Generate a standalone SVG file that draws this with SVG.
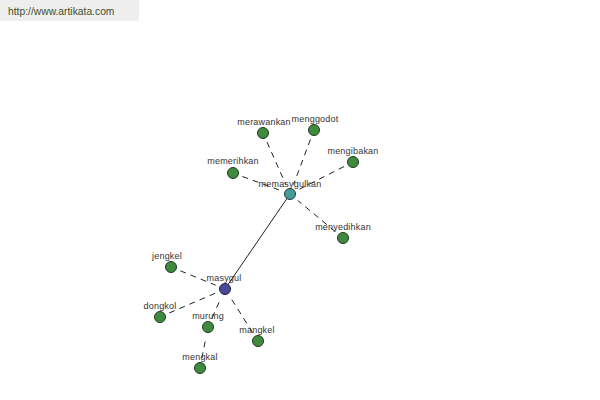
<svg xmlns="http://www.w3.org/2000/svg" width="600" height="400" viewBox="0 0 600 400">
<style>
.lbl{font-family:"Liberation Sans",Arial,sans-serif;font-size:9px;fill:#333;text-anchor:middle;letter-spacing:0.2px}
.leaf{fill:#3f8a3f;stroke:#1e3a1e;stroke-width:1}
.d{stroke:#222;stroke-width:1;stroke-dasharray:6 5;fill:none}
</style>
<rect width="600" height="400" fill="#fff"/>
<rect x="0" y="0" width="139" height="21" fill="#eeeeee"/>
<text x="8" y="15" style="font-family:'Liberation Sans',Arial,sans-serif;font-size:10.3px;fill:#3f4f30">http://www.artikata.com</text>
<g id="connectors">
<line x1="225" y1="289" x2="290" y2="194" stroke="#222" stroke-width="1"/>
<line class="d" x1="242.4" y1="176.5" x2="280.6" y2="190.5"/>
<line class="d" x1="267" y1="142.1" x2="286" y2="184.9"/>
<line class="d" x1="310.5" y1="139.4" x2="293.5" y2="184.6"/>
<line class="d" x1="344.1" y1="166.5" x2="298.9" y2="189.5"/>
<line class="d" x1="335.3" y1="231.6" x2="297.7" y2="200.4"/>
<line class="d" x1="180.3" y1="270.8" x2="215.7" y2="285.2"/>
<line class="d" x1="169.2" y1="313" x2="215.8" y2="293"/>
<line class="d" x1="212.1" y1="317.9" x2="220.9" y2="298.1"/>
<line class="d" x1="252.6" y1="332.6" x2="230.4" y2="297.4"/>
<line class="d" x1="201.9" y1="358.2" x2="206.1" y2="336.8"/>
</g>
<g id="memasygulkan"><circle cx="290" cy="194" r="5.5" fill="#4a9a9a" stroke="#1e3a3a"/><text class="lbl" x="290" y="187">memasygulkan</text></g>
<g id="masygul"><circle cx="225" cy="289" r="5.5" fill="#4a4a9a" stroke="#1e1e3a"/><text class="lbl" x="224" y="281">masygul</text></g>
<g id="merawankan"><circle class="leaf" cx="263" cy="133" r="5.5"/><text class="lbl" x="264" y="125">merawankan</text></g>
<g id="menggodot"><circle class="leaf" cx="314" cy="130" r="5.5"/><text class="lbl" x="315" y="122">menggodot</text></g>
<g id="mengibakan"><circle class="leaf" cx="353" cy="162" r="5.5"/><text class="lbl" x="353" y="154">mengibakan</text></g>
<g id="memerihkan"><circle class="leaf" cx="233" cy="173" r="5.5"/><text class="lbl" x="233" y="164">memerihkan</text></g>
<g id="menyedihkan"><circle class="leaf" cx="343" cy="238" r="5.5"/><text class="lbl" x="343" y="230">menyedihkan</text></g>
<g id="jengkel"><circle class="leaf" cx="171" cy="267" r="5.5"/><text class="lbl" x="167" y="259">jengkel</text></g>
<g id="dongkol"><circle class="leaf" cx="160" cy="317" r="5.5"/><text class="lbl" x="160" y="309">dongkol</text></g>
<g id="murung"><circle class="leaf" cx="208" cy="327" r="5.5"/><text class="lbl" x="208" y="319">murung</text></g>
<g id="mangkel"><circle class="leaf" cx="258" cy="341" r="5.5"/><text class="lbl" x="257" y="333">mangkel</text></g>
<g id="mengkal"><circle class="leaf" cx="200" cy="368" r="5.5"/><text class="lbl" x="200" y="360">mengkal</text></g>
</svg>
